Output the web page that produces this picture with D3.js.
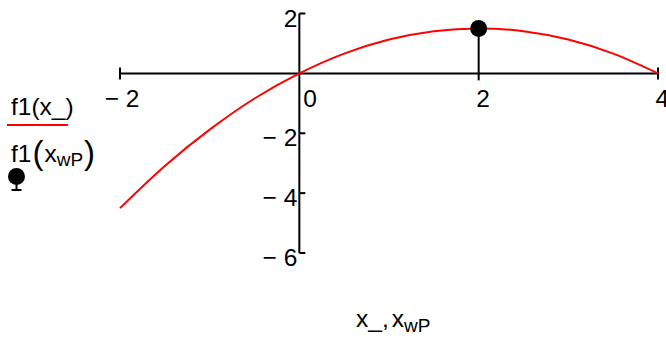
<!DOCTYPE html>
<html>
<head>
<meta charset="utf-8">
<script src="https://cdn.jsdelivr.net/npm/d3@7"></script>
<style>
  html, body { margin: 0; padding: 0; background: #fff; }
  svg { display: block; font-family: "Liberation Sans", Arial, sans-serif; }
</style>
</head>
<body>
<svg id="chart" width="666" height="338"></svg>
<script>
// Sampled curve f1(x_)
const curveX = [-2, -1.5, -1, -0.5, 0, 0.5, 1, 1.5, 2, 2.5, 3, 3.5, 4];
const curveY = [-4.5, -3.09, -1.88, -0.84, 0, 0.66, 1.13, 1.41, 1.5, 1.41, 1.13, 0.66, 0];

// Marked point f1(x_wP)
const pointX = [2];
const pointY = [1.5];

// Axis ticks
const xTicks = [-2, 0, 2, 4];
const xTickLabels = ["\u2212 2", "0", "2", "4"];
const yTicks = [2, -2, -4, -6];
const yTickLabels = ["2", "\u2212 2", "\u2212 4", "\u2212 6"];

const svg = d3.select("#chart");
const x = d3.scaleLinear().domain([-2, 4]).range([120, 658]);
const y = d3.scaleLinear().domain([-6, 2]).range([253, 13.5]);
const FS = 24.5;
const SUB = 19;

// Axes crossing at the origin
const axes = svg.append("g").attr("stroke", "#000").attr("stroke-width", 2);
axes.append("line").attr("x1", x(-2)).attr("x2", x(4)).attr("y1", y(0)).attr("y2", y(0));
axes.append("line").attr("x1", x(0)).attr("x2", x(0)).attr("y1", y(2)).attr("y2", y(-6));
// end caps on the horizontal axis
[-2, 4].forEach(v => axes.append("line")
  .attr("x1", x(v)).attr("x2", x(v)).attr("y1", y(0) - 6).attr("y2", y(0) + 6));
// interior x ticks point down
xTicks.filter(v => v !== -2 && v !== 4 && v !== 0).forEach(v => axes.append("line")
  .attr("x1", x(v)).attr("x2", x(v)).attr("y1", y(0)).attr("y2", y(0) + 7));
// y ticks point right
yTicks.forEach(v => axes.append("line")
  .attr("x1", x(0)).attr("x2", x(0) + 6).attr("y1", y(v)).attr("y2", y(v)));

// x tick labels
const xl = svg.append("g").attr("font-size", FS).attr("fill", "#000");
xTicks.forEach((v, i) => {
  const t = xl.append("text").attr("y", y(0) + 34).text(xTickLabels[i]);
  let px = x(v) - 2.5;
  if (v === 0) px = x(0) + 4;
  if (v < 0) {
    const w = t.node().getComputedTextLength();
    px = x(v) - w / 2 + 2;
  }
  t.attr("x", px);
});

// y tick labels
const yl = svg.append("g").attr("font-size", FS).attr("fill", "#000").attr("text-anchor", "end");
yTicks.forEach((v, i) => {
  yl.append("text").attr("x", x(0) - 2).attr("y", y(v) + 13).text(yTickLabels[i]);
});

// Curve
const line = d3.line().x(d => x(d[0])).y(d => y(d[1])).curve(d3.curveCatmullRom);
svg.append("path")
  .datum(curveX.map((v, i) => [v, curveY[i]]))
  .attr("d", line)
  .attr("fill", "none").attr("stroke", "#ff0000").attr("stroke-width", 2);

// Stem and point
pointX.forEach((v, i) => {
  svg.append("line").attr("x1", x(v)).attr("x2", x(v)).attr("y1", y(0)).attr("y2", y(pointY[i]))
    .attr("stroke", "#000").attr("stroke-width", 2);
  svg.append("circle").attr("cx", x(v)).attr("cy", y(pointY[i])).attr("r", 8.5).attr("fill", "#000");
});

// Legend
const lg = svg.append("g").attr("fill", "#000");
lg.append("text").attr("x", 11).attr("y", 115).attr("font-size", FS).text("f1(x_)");
lg.append("line").attr("x1", 7).attr("x2", 68).attr("y1", 125).attr("y2", 125)
  .attr("stroke", "#ff0000").attr("stroke-width", 2);

const l2 = lg.append("text").attr("x", 11).attr("y", 162).attr("font-size", FS);
l2.append("tspan").text("f1");
l2.append("tspan").attr("font-size", 33).attr("dy", 2).attr("dx", 1).text("(");
l2.append("tspan").attr("dy", -2).attr("dx", 1).text("x");
l2.append("tspan").attr("font-size", SUB).attr("dy", 4).text("wP");
l2.append("tspan").attr("font-size", 33).attr("dy", -2).attr("dx", 1).text(")");

lg.append("circle").attr("cx", 16.5).attr("cy", 176.5).attr("r", 8.5);
lg.append("line").attr("x1", 16.5).attr("x2", 16.5).attr("y1", 180).attr("y2", 190)
  .attr("stroke", "#000").attr("stroke-width", 2);
lg.append("line").attr("x1", 11.5).attr("x2", 21.5).attr("y1", 190).attr("y2", 190)
  .attr("stroke", "#000").attr("stroke-width", 2);

// Axis title
const xt = svg.append("text").attr("x", 356).attr("y", 327).attr("font-size", FS).attr("fill", "#000");
xt.append("tspan").text("x_,");
xt.append("tspan").attr("dx", 3).text("x");
xt.append("tspan").attr("font-size", SUB).attr("dy", 5).text("wP");
</script>
</body>
</html>
